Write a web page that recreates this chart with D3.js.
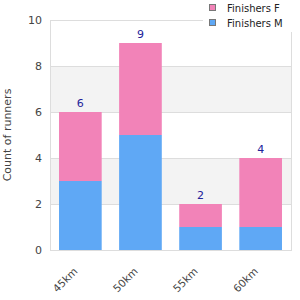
<!DOCTYPE html>
<html><head><meta charset="utf-8">
<script src="https://cdn.jsdelivr.net/npm/d3@7"></script>
<style>body{margin:0;background:#fff}svg{display:block}</style>
</head><body>
<svg id="c" width="300" height="300"></svg>
<script>
const categories = ["45km","50km","55km","60km"];
const finishersM = [3,5,1,1];
const finishersF = [3,4,1,3];
const yTicks = [0,2,4,6,8,10];
const seriesNames = ["Finishers F","Finishers M"];

const svg = d3.select("#c");
const m = {l:50, r:291, t:20, b:250};
const x = d3.scaleBand().domain(categories).range([m.l,m.r]).paddingInner(0.29).paddingOuter(0.15);
const y = d3.scaleLinear().domain([0,10]).range([m.b,m.t]);
const font = "DejaVu Sans, sans-serif";

for (let i=0;i<yTicks.length-1;i++){
  if (i%2===1){
    svg.append("rect").attr("x",m.l).attr("width",m.r-m.l)
      .attr("y",y(yTicks[i+1])).attr("height",y(yTicks[i])-y(yTicks[i+1])).attr("fill","#f3f3f3");
  }
}
svg.append("g").selectAll("line").data(yTicks).join("line")
  .attr("x1",m.l).attr("x2",m.r).attr("y1",d=>y(d)).attr("y2",d=>y(d))
  .attr("stroke","#dddddd").attr("stroke-width",1).attr("shape-rendering","crispEdges");
svg.append("rect").attr("x",m.l).attr("y",m.t).attr("width",m.r-m.l).attr("height",m.b-m.t)
  .attr("fill","none").attr("stroke","#dddddd").attr("shape-rendering","crispEdges");

const stackData = categories.map((c,i)=>({cat:c, M:finishersM[i], F:finishersF[i]}));
const stack = d3.stack().keys(["M","F"])(stackData);
const colors = {M:"#5fa8f5", F:"#f283b8"};
svg.append("g").selectAll("g").data(stack).join("g").attr("fill",d=>colors[d.key])
  .selectAll("rect").data(d=>d).join("rect")
  .attr("x",d=>x(d.data.cat)).attr("width",x.bandwidth())
  .attr("y",d=>y(d[1])).attr("height",d=>y(d[0])-y(d[1]));

svg.append("g").selectAll("text").data(stackData).join("text")
  .attr("x",d=>x(d.cat)+x.bandwidth()/2).attr("y",d=>y(d.M+d.F)-5)
  .attr("text-anchor","middle").attr("font-family",font).attr("font-size",11)
  .attr("fill","#22229a").text(d=>d.M+d.F);

const ya = d3.axisLeft(y).tickValues(yTicks).tickSize(0).tickPadding(8);
const yg = svg.append("g").attr("transform",`translate(${m.l},0)`).call(ya);
yg.select(".domain").remove();
yg.selectAll("text").attr("font-family",font).attr("font-size",11).attr("fill","#444");

const xa = d3.axisBottom(x).tickSize(0).tickPadding(0);
const xg = svg.append("g").attr("transform",`translate(0,${m.b})`).call(xa);
xg.select(".domain").remove();
xg.selectAll("text").attr("font-family",font).attr("font-size",10.5).attr("fill","#444")
  .attr("text-anchor","end").attr("dy",0)
  .attr("transform","translate(-2,22) rotate(-45)");

svg.append("text").attr("transform","translate(7,135) rotate(-90)")
  .attr("text-anchor","middle").attr("dy","0.35em").attr("font-family",font).attr("font-size",11)
  .attr("fill","#444").text("Count of runners");

const lg = svg.append("g");
lg.append("rect").attr("x",203).attr("y",0).attr("width",97).attr("height",32).attr("fill","#fff");
seriesNames.forEach((n,i)=>{
  lg.append("rect").attr("x",209.5).attr("y",4.5+i*15).attr("width",6).attr("height",6)
    .attr("fill",i===0?colors.F:colors.M).attr("stroke","#777");
  lg.append("text").attr("x",227).attr("y",8+i*15).attr("dy","0.35em")
    .attr("font-family",font).attr("font-size",10).attr("fill","#222").text(n);
});
</script>
</body></html>
